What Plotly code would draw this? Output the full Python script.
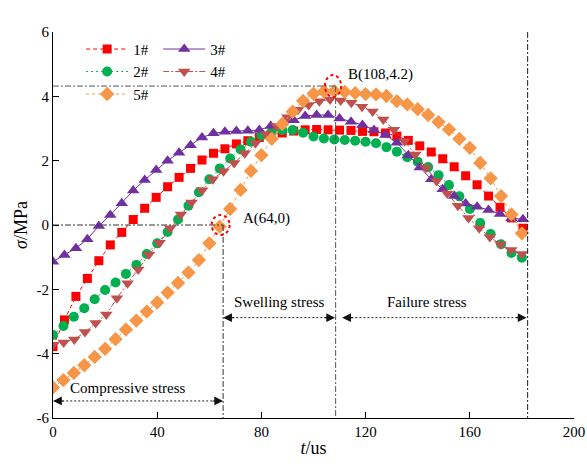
import plotly.graph_objects as go

# ---------------- data ----------------
STEP_1 = 4.4
S1 = [-3.78, -2.95, -2.22, -1.66, -1.11, -0.62, -0.23, 0.17, 0.52, 0.86,
      1.19, 1.48, 1.76, 2.02, 2.23, 2.37, 2.52, 2.62, 2.72, 2.80,
      2.86, 2.92, 2.96, 2.97, 2.96, 2.95, 2.94, 2.91, 2.90, 2.86,
      2.76, 2.63, 2.46, 2.27, 2.06, 1.81, 1.53, 1.25, 0.90, 0.55,
      0.22, -0.10]

STEP_2 = 4.0
S2 = [-3.42, -3.14, -2.85, -2.59, -2.31, -2.02, -1.79, -1.52, -1.24, -0.90,
      -0.57, -0.22, 0.17, 0.60, 1.02, 1.42, 1.76, 2.07, 2.35, 2.59,
      2.78, 2.90, 2.95, 2.95, 2.87, 2.75, 2.69, 2.66, 2.64, 2.62,
      2.59, 2.54, 2.42, 2.28, 2.11, 1.97, 1.80, 1.55, 1.24, 0.89,
      0.50, 0.06, -0.28, -0.60, -0.87, -1.02]

STEP_3 = 4.4
S3 = [-1.14, -0.93, -0.72, -0.44, -0.03, 0.31, 0.68, 1.07, 1.40, 1.71,
      2.00, 2.25, 2.48, 2.72, 2.85, 2.90, 2.92, 2.93, 2.95, 3.08,
      3.17, 3.26, 3.39, 3.42, 3.42, 3.31, 3.21, 3.11, 2.95, 2.80,
      2.56, 2.17, 1.79, 1.42, 1.11, 0.90, 0.67, 0.57, 0.47, 0.34,
      0.21, 0.18]

STEP_4 = 4.09
S4 = [-3.72, -3.65, -3.56, -3.33, -3.05, -2.78, -2.28, -1.81, -1.38, -0.92,
      -0.55, -0.10, 0.33, 0.70, 1.08, 1.42, 1.67, 1.93, 2.23, 2.54,
      2.82, 3.08, 3.35, 3.58, 3.73, 3.85, 3.90, 3.87, 3.80, 3.68,
      3.53, 3.28, 2.96, 2.60, 2.19, 1.78, 1.37, 0.98, 0.60, 0.22,
      -0.10, -0.37, -0.60, -0.78, -0.90]

STEP_5 = 4.0
S5 = [-5.05, -4.82, -4.60, -4.36, -4.10, -3.85, -3.55, -3.25, -2.97, -2.69,
      -2.41, -2.10, -1.80, -1.48, -1.09, -0.57, -0.05, 0.50, 1.09, 1.68,
      2.17, 2.68, 3.14, 3.52, 3.86, 4.08, 4.15, 4.16, 4.14, 4.10,
      4.07, 4.06, 4.01, 3.85, 3.75, 3.60, 3.42, 3.20, 2.97, 2.68,
      2.40, 1.93, 1.45, 0.90, 0.33, -0.26]

NAMES = ["1#", "2#", "3#", "4#", "5#"]
X_TICKS = [0, 40, 80, 120, 160, 200]
Y_TICKS = [-6, -4, -2, 0, 2, 4, 6]

def times(step, vals):
    return [round(i * step, 2) for i in range(len(vals))]

FONT = "Liberation Serif"

series = [
    (NAMES[0], times(STEP_1, S1), S1, "#FF0000", "square", 9, "4px,3px", "legend"),
    (NAMES[1], times(STEP_2, S2), S2, "#00B050", "circle", 10, "2px,3px", "legend"),
    (NAMES[2], times(STEP_3, S3), S3, "#7030A0", "triangle-up", 11, "solid", "legend2"),
    (NAMES[3], times(STEP_4, S4), S4, "#C0504D", "triangle-down", 11, "6px,2px,2px,2px", "legend2"),
    (NAMES[4], times(STEP_5, S5), S5, "#F79646", "diamond", 11, "3px,3px", "legend"),
]

fig = go.Figure()
for name, x, y, col, sym, sz, dash, lg in series:
    fig.add_trace(go.Scatter(
        x=x, y=y, name=name, mode="lines+markers",
        line=dict(color=col, width=1, dash=dash),
        marker=dict(symbol=sym, size=sz, color=col, line=dict(width=0)),
        legend=lg,
    ))

DD = "6px,2px,2px,2px"
ref_lines = [
    (0, 0, 65.3, 0, "#333333"),
    (65.3, 0, 65.3, -6, "#333333"),
    (0, 4.32, 108.5, 4.32, "#555555"),
    (108.5, 4.32, 108.5, -6, "#555555"),
    (182.2, 6, 182.2, -6, "#222222"),
]
for x0, y0, x1, y1, c in ref_lines:
    fig.add_shape(type="line", x0=x0, y0=y0, x1=x1, y1=y1, xref="x", yref="y",
                  line=dict(color=c, width=1, dash=DD))

# dotted arrow shafts
arrows = [(0.0, 65.3, -5.47), (65.3, 108.3, -2.88), (111.0, 181.8, -2.88)]
for xa, xb, ya in arrows:
    fig.add_shape(type="line", x0=xa + 2, y0=ya, x1=xb - 2, y1=ya,
                  line=dict(color="#222222", width=1, dash="2px,2px"))
    fig.add_annotation(x=xa, y=ya, ax=12, ay=0, text="", showarrow=True,
                       arrowhead=2, arrowsize=1.6, arrowwidth=1.1,
                       arrowcolor="#111111", standoff=0)
    fig.add_annotation(x=xb, y=ya, ax=-12, ay=0, text="", showarrow=True,
                       arrowhead=2, arrowsize=1.6, arrowwidth=1.1,
                       arrowcolor="#111111", standoff=0)

# dotted red circles
fig.add_shape(type="circle", x0=60.9, x1=67.8, y0=-0.31, y1=0.31,
              line=dict(color="#FF0000", width=2, dash="dot"))
fig.add_shape(type="circle", x0=104.4, x1=110.6, y0=3.98, y1=4.66,
              line=dict(color="#FF0000", width=2, dash="dot"))

texts = [
    ("A(64,0)", 72.3, 0.21, "left"),
    ("B(108,4.2)", 112.6, 4.69, "left"),
    ("Swelling stress", 86.9, -2.39, "center"),
    ("Failure stress", 143.5, -2.39, "center"),
    ("Compressive stress", 28.9, -5.06, "center"),
]
for t, x, y, xa in texts:
    fig.add_annotation(x=x, y=y, text=t, showarrow=False, xanchor=xa,
                       font=dict(family=FONT, size=15, color="black"))

axis_common = dict(showline=True, linecolor="black", linewidth=1.2,
                   ticks="inside", ticklen=6, tickwidth=1.2, tickcolor="black",
                   showgrid=False, zeroline=False, automargin=False,
                   tickfont=dict(family=FONT, size=15, color="black"))

fig.update_layout(
    width=587, height=466,
    margin=dict(l=53, r=13, t=32, b=48),
    paper_bgcolor="white", plot_bgcolor="white",
    font=dict(family=FONT, size=15, color="black"),
    xaxis=dict(range=[0, 200], tickvals=X_TICKS, ticktext=[str(v) for v in X_TICKS],
               title=dict(text="<i>t</i>/us", font=dict(family=FONT, size=18), standoff=2),
               **axis_common),
    yaxis=dict(range=[-6, 6], tickvals=Y_TICKS, ticktext=[str(v) for v in Y_TICKS],
               title=dict(text="<i>σ</i>/MPa", font=dict(family=FONT, size=18), standoff=4),
               **axis_common),
    legend=dict(x=0.054, y=0.998, xanchor="left", yanchor="top",
                bgcolor="rgba(0,0,0,0)", font=dict(family=FONT, size=15),
                tracegroupgap=0, itemwidth=42),
    legend2=dict(x=0.202, y=0.998, xanchor="left", yanchor="top",
                 bgcolor="rgba(0,0,0,0)", font=dict(family=FONT, size=15),
                 tracegroupgap=0, itemwidth=42),
    showlegend=True,
)

fig.write_html("out.html")
